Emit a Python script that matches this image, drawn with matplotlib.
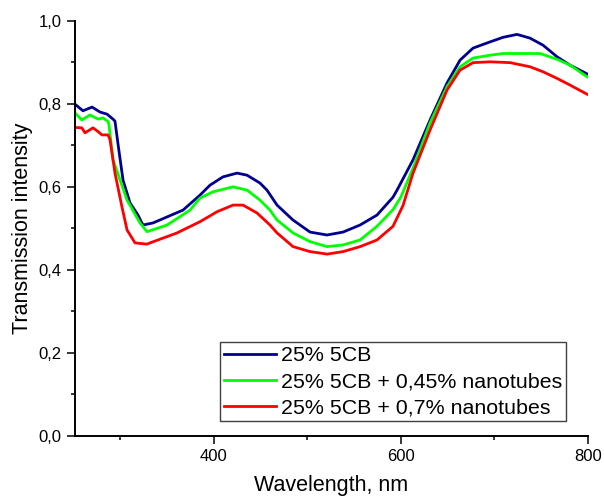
import matplotlib
matplotlib.use("Agg")
import matplotlib.pyplot as plt
from matplotlib.ticker import MultipleLocator

plt.rcParams['font.family'] = ['Liberation Sans', 'DejaVu Sans']

# Spectra (wavelength in nm, transmission)
wl_5cb = [252, 260.5, 270.2, 278.7, 286.2, 292.6, 294.7, 298.3, 303.3, 310.8, 319.3,
          324.6, 335.3, 367.4, 385.5, 396.2, 410.1, 425.1, 435.8, 449.6, 457.1, 467.8,
          484.9, 503.1, 521.2, 538.3, 556.5, 574.6, 591.7, 596, 613.1, 631.3, 649.4,
          663.3, 677.2, 695.4, 709.3, 724.2, 738.1, 752, 767, 780.8, 799]
tr_5cb = [0.799, 0.783, 0.792, 0.780, 0.775, 0.763, 0.758, 0.697, 0.616, 0.561, 0.532,
          0.508, 0.513, 0.544, 0.580, 0.604, 0.624, 0.633, 0.628, 0.609, 0.592, 0.556,
          0.520, 0.491, 0.484, 0.491, 0.508, 0.532, 0.575, 0.592, 0.665, 0.761, 0.850,
          0.905, 0.934, 0.949, 0.960, 0.967, 0.958, 0.941, 0.913, 0.893, 0.872]

wl_045 = [252, 259.2, 268, 276.6, 281.9, 287.3, 288.3, 292.6, 307.6, 321.4, 328.9,
          350.3, 374.9, 385.5, 399.4, 420.8, 435.8, 449.6, 460.3, 467.8, 484.9, 503.1,
          521.2, 538.3, 556.5, 574.6, 591.7, 600, 613.1, 631.3, 649.4, 663.3, 677.2,
          695.4, 709.3, 748.8, 767, 780.8, 799]
tr_045 = [0.778, 0.761, 0.773, 0.763, 0.766, 0.757, 0.749, 0.665, 0.568, 0.513, 0.492,
          0.508, 0.544, 0.573, 0.588, 0.600, 0.592, 0.568, 0.544, 0.520, 0.489, 0.468,
          0.456, 0.460, 0.472, 0.505, 0.545, 0.575, 0.645, 0.754, 0.841, 0.889, 0.910,
          0.917, 0.921, 0.921, 0.907, 0.893, 0.865]

wl_07 = [252, 259.2, 262.7, 271.2, 276.6, 280.8, 287.3, 289.4, 294.7, 302.2, 307.6,
         316.1, 328.9, 332.1, 361, 385.5, 403.7, 420.8, 431.5, 446.4, 460.3, 467.8,
         484.9, 503.1, 521.2, 538.3, 556.5, 574.6, 591.7, 602.4, 613.1, 631.3, 649.4,
         663.3, 677.2, 695.4, 716.8, 738.1, 752, 767, 780.8, 799]
tr_07 = [0.743, 0.742, 0.730, 0.742, 0.733, 0.725, 0.725, 0.713, 0.633, 0.551, 0.496,
         0.465, 0.462, 0.465, 0.489, 0.516, 0.540, 0.556, 0.556, 0.537, 0.508, 0.489,
         0.456, 0.444, 0.438, 0.444, 0.456, 0.472, 0.505, 0.555, 0.633, 0.737, 0.833,
         0.881, 0.899, 0.901, 0.899, 0.889, 0.877, 0.861, 0.845, 0.823]

labels = ['25% 5CB', '25% 5CB + 0,45% nanotubes', '25% 5CB + 0,7% nanotubes']
y_ticks = [0.0, 0.2, 0.4, 0.6, 0.8, 1.0]
y_ticklabels = ['0,0', '0,2', '0,4', '0,6', '0,8', '1,0']
x_ticks = [400, 600, 800]

fig = plt.figure(figsize=(6.04, 5.0), dpi=100)
ax = fig.add_axes([0.1242, 0.128, 0.8493, 0.8306])

ax.plot(wl_5cb, tr_5cb, color='#000090', lw=2, label=labels[0])
ax.plot(wl_045, tr_045, color='#00ff00', lw=2, label=labels[1])
ax.plot(wl_07, tr_07, color='#ff0000', lw=2, label=labels[2])

ax.set_xlim(252, 800)
ax.set_ylim(0, 1.0)
ax.set_xticks(x_ticks)
ax.set_yticks(y_ticks)
ax.set_yticklabels(y_ticklabels)
ax.xaxis.set_minor_locator(MultipleLocator(100))
ax.yaxis.set_minor_locator(MultipleLocator(0.1))

for side in ['top', 'right']:
    ax.spines[side].set_visible(False)
for side in ['left', 'bottom']:
    ax.spines[side].set_linewidth(1.4)

ax.tick_params(which='major', direction='out', length=5.5, width=1.1,
               labelsize=12, pad=4)
ax.tick_params(which='minor', direction='out', length=3, width=1.1)

ax.set_xlabel('Wavelength, nm', fontsize=15.5, labelpad=8)
ax.set_ylabel('Transmission intensity', fontsize=15.5, labelpad=4)

leg = ax.legend(loc='upper left', bbox_to_anchor=(0.283, 0.226), borderaxespad=0,
                fontsize=15.4, handlelength=2.4, handletextpad=0.22,
                borderpad=0.2, labelspacing=0.32, fancybox=False, framealpha=1,
                edgecolor='#404040')
leg.get_frame().set_linewidth(1.0)

fig.savefig('out.png', dpi=100)
